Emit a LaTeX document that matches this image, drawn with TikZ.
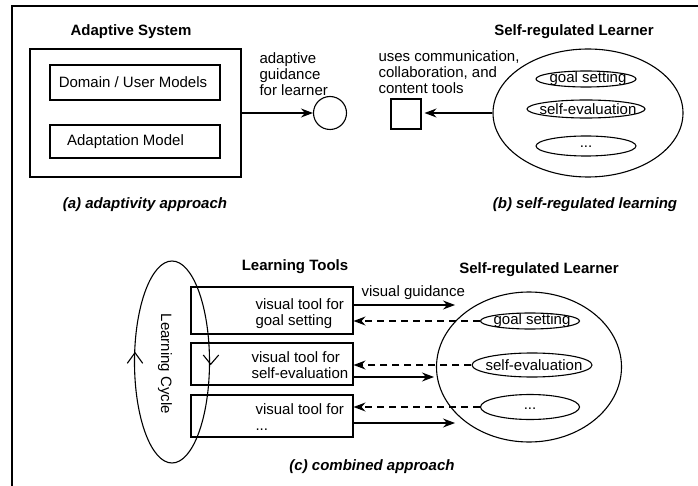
\documentclass[tikz,border=0pt]{standalone}
\usepackage{fontspec}
\setmainfont{Liberation Sans}
\usetikzlibrary{arrows.meta,shapes.geometric}
\begin{document}
\begin{tikzpicture}[x=1pt,y=-1pt,
  every node/.style={font=\fontsize{15}{16}\selectfont, inner sep=0pt},
  ttl/.style={font=\fontsize{15}{16}\selectfont\bfseries},
  captxt/.style={font=\fontsize{15}{16}\selectfont\bfseries\itshape},
  box/.style={draw, line width=1.1pt, rectangle},
  ell/.style={draw, line width=1.1pt, ellipse},
  txt/.style={align=left},
  arr/.style={-{Stealth[length=12pt,width=9pt,inset=4pt]}, line width=1.1pt},
  darr/.style={arr, dash pattern=on 7pt off 5pt},
  line width=1.1pt]
\useasboundingbox (0,0) rectangle (698,486);
% frame
\draw[line width=2pt] (12,490) -- (12,6) -- (702,6);

% (a) adaptivity approach
\node[ttl] (astitle) at (131,32) {Adaptive System};
\node[box, minimum width=211pt, minimum height=128pt] (as) at (135.5,113) {};
\node[box, minimum width=170pt, minimum height=35pt] (dum) at (135,82.5) {};
\node (dumt) at (133,82.5) {Domain / User Models};
\node[box, minimum width=170pt, minimum height=33pt] (am) at (135,141.5) {};
\node (amt) at (125.5,141.5) {Adaptation Model};
\node[draw, circle, line width=1.1pt, minimum size=33pt] (circ) at (330,113) {};
\draw[arr] (as.east) -- (circ.west);
\node[txt, anchor=west] (adt) at (259,74) {adaptive\\guidance\\for learner};
\node[captxt] (capa) at (145,205) {(a) adaptivity approach};

% (b) self-regulated learning
\node[ttl] (srltitle) at (574,32) {Self-regulated Learner};
\node[ell, minimum width=190pt, minimum height=128pt] (srl) at (588,113) {};
\node[ell, minimum width=100pt, minimum height=16pt] (g1) at (586,79) {};
\node (g1t) at (588,79) {goal setting};
\node[ell, minimum width=118pt, minimum height=18pt] (s1) at (586,109) {};
\node (s1t) at (588,109) {self-evaluation};
\node[ell, minimum width=100pt, minimum height=20pt] (d1) at (586,146) {};
\node (d1t) at (586,147) {...};
\node[box, minimum size=30pt] (sq) at (406,114) {};
\draw[arr, shorten >=3pt] (srl.west) -- (sq.east |- srl.west);
\node[txt, anchor=west] (uct) at (378,72) {uses communication,\\collaboration, and\\content tools};
\node[captxt] (capb) at (585,205) {(b) self-regulated learning};

% (c) combined approach
\node[ttl] (lttitle) at (295,267) {Learning Tools};
\node[box, minimum width=162pt, minimum height=47pt] (t1) at (272,310.5) {};
\node[txt, anchor=west] (t1t) at (255,314) {visual tool for\\goal setting};
\node[box, minimum width=162pt, minimum height=42pt] (t2) at (272,364) {};
\node[txt, anchor=west] (t2t) at (251,365) {visual tool for\\self-evaluation};
\node[box, minimum width=162pt, minimum height=42pt] (t3) at (272,416) {};
\node[txt, anchor=west] (t3t) at (255,417) {visual tool for\\...};

\node[ell, minimum width=75pt, minimum height=202pt] (cyc) at (172,362) {};
\node[rotate=-90] (cyct) at (165,364) {Learning Cycle};
\draw (127.3,363.3) -- (135,352.7) -- (142.7,363.3);
\draw (203.3,355) -- (210.7,364.3) -- (218.7,355);

\node[ttl] (srl2title) at (539,270) {Self-regulated Learner};
\node[ell, minimum width=185pt, minimum height=150pt] (srl2) at (529,367) {};
\node[ell, minimum width=99pt, minimum height=16pt] (g2) at (530,321) {};
\node (g2t) at (532,321) {goal setting};
\node[ell, minimum width=120pt, minimum height=24pt] (s2) at (532,365) {};
\node (s2t) at (534,365) {self-evaluation};
\node[ell, minimum width=99pt, minimum height=25pt] (d2) at (530,407) {};
\node (d2t) at (530,409) {...};

\coordinate (vg1) at (455,305);
\coordinate (vg2) at (434,377);
\coordinate (vg3) at (455,423);
\draw[arr] (t1.east |- vg1) -- (vg1);
\node[anchor=south west] (vgt) at (361,300) {visual guidance};
\draw[darr] (g2.west) -- (t1.east |- g2.west);
\draw[darr] (s2.west) -- (t2.east |- s2.west);
\draw[arr] (t2.east |- vg2) -- (vg2);
\draw[darr] (d2.west) -- (t3.east |- d2.west);
\draw[arr] (t3.east |- vg3) -- (vg3);
\node[captxt] (capc) at (372,467) {(c) combined approach};
\end{tikzpicture}
\end{document}
